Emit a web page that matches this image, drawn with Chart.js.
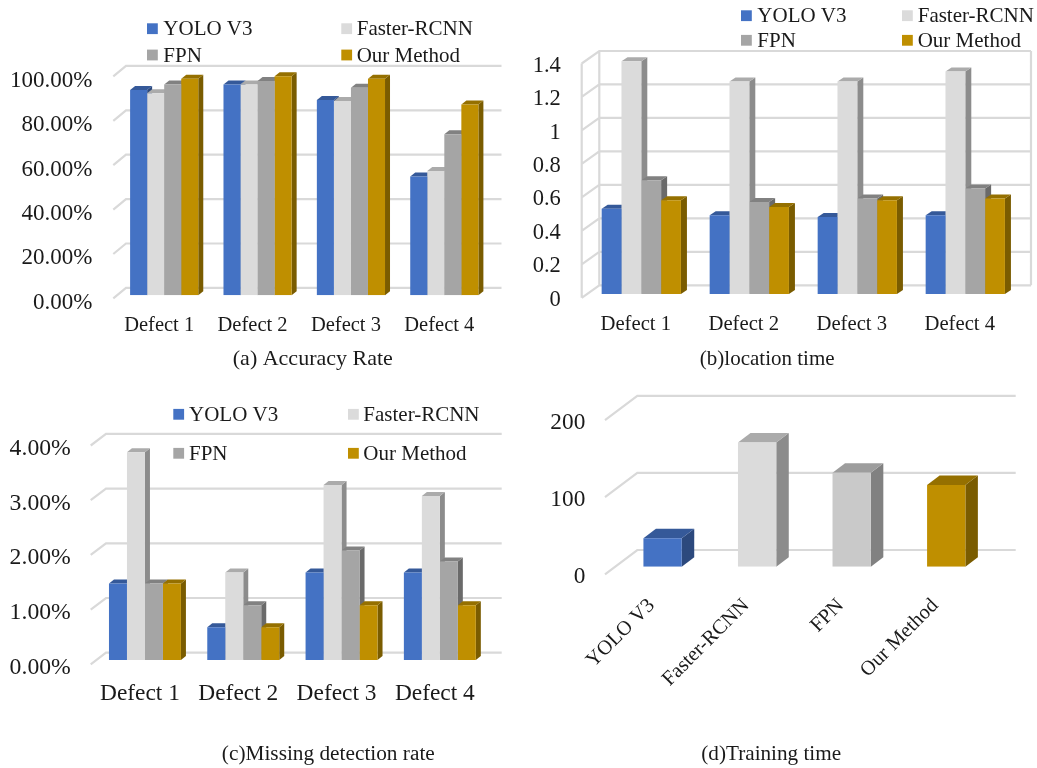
<!DOCTYPE html>
<html>
<head>
<meta charset="utf-8">
<title>Defect detection comparison</title>
<script src="https://cdn.jsdelivr.net/npm/chart.js@4/dist/chart.umd.min.js"></script>
<style>
  html, body { margin: 0; padding: 0; background: #fff; }
  #page { position: relative; width: 1037px; height: 768px; overflow: hidden; }
  canvas { position: absolute; }
</style>
</head>
<body>
<div id="page">
  <canvas id="chartA"></canvas>
  <canvas id="chartB"></canvas>
  <canvas id="chartC"></canvas>
  <canvas id="chartD"></canvas>
</div>
<script>
const defects = ['Defect 1', 'Defect 2', 'Defect 3', 'Defect 4'];
const methods = ['YOLO V3', 'Faster-RCNN', 'FPN', 'Our Method'];
const methodColors = ['#4472C4', '#DBDBDB', '#A5A5A5', '#BF8F00'];
const trainingColors = ['#4472C4', '#DBDBDB', '#C9C9C9', '#BF8F00'];

// (a) accuracy rate, percent
const accuracyYolo = [92.5, 95, 88, 53.5];
const accuracyFaster = [91, 95, 87.5, 56];
const accuracyFpn = [95, 96.5, 93.5, 72.5];
const accuracyOur = [97.5, 98.7, 97.5, 86];

// (b) location time
const locationYolo = [0.51, 0.47, 0.46, 0.47];
const locationFaster = [1.39, 1.27, 1.27, 1.33];
const locationFpn = [0.68, 0.55, 0.57, 0.63];
const locationOur = [0.56, 0.52, 0.56, 0.57];

// (c) missing detection rate, percent
const missingYolo = [1.4, 0.6, 1.6, 1.6];
const missingFaster = [3.8, 1.6, 3.2, 3.0];
const missingFpn = [1.4, 1.0, 2.0, 1.8];
const missingOur = [1.4, 0.6, 1.0, 1.0];

// (d) training time
const trainingTime = [37, 161, 122, 106];

const SERIF = '"Liberation Serif", "Times New Roman", serif';
const INK = '#1a1a1a';
const GRID = '#d9d9d9';

function shade(hex, k) {
  const n = parseInt(hex.slice(1), 16);
  const r = Math.round((n >> 16) * k);
  const g = Math.round(((n >> 8) & 255) * k);
  const b = Math.round((n & 255) * k);
  return `rgb(${r},${g},${b})`;
}

function poly(ctx, pts, color) {
  ctx.fillStyle = color;
  ctx.beginPath();
  pts.forEach((p, i) => (i ? ctx.lineTo(p[0], p[1]) : ctx.moveTo(p[0], p[1])));
  ctx.closePath();
  ctx.fill();
}

// back wall, grid lines and the depth of the bars
const fakeDepth = {
  id: 'fakeDepth',
  beforeDatasetsDraw(chart, args, opts) {
    const ctx = chart.ctx;
    const y = chart.scales.y;
    const w = opts.wall;
    const box = opts.box;
    ctx.save();
    ctx.strokeStyle = GRID;
    ctx.lineWidth = 2.2;
    ctx.beginPath();
    y.ticks.forEach(t => {
      const py = y.getPixelForValue(t.value) + w.shift;
      ctx.moveTo(w.front - box.x, py + w.dy);
      ctx.lineTo(w.back - box.x, py);
      ctx.lineTo(w.right - box.x, py);
    });
    if (w.frame) {
      const top = y.getPixelForValue(y.max) + w.shift;
      const bottom = y.getPixelForValue(0) + w.shift;
      ctx.moveTo(w.back - box.x, top);
      ctx.lineTo(w.back - box.x, bottom);
      ctx.moveTo(w.front - box.x, top + w.dy);
      ctx.lineTo(w.front - box.x, bottom + w.dy);
      ctx.moveTo(w.right - box.x, top);
      ctx.lineTo(w.right - box.x, bottom);
    }
    ctx.stroke();

    const d = opts.depth;
    chart.data.datasets.forEach((ds, i) => {
      chart.getDatasetMeta(i).data.forEach((bar, j) => {
        const color = Array.isArray(ds.backgroundColor) ? ds.backgroundColor[j] : ds.backgroundColor;
        const l = bar.x - bar.width / 2;
        const r = bar.x + bar.width / 2;
        poly(ctx, [[r, bar.y], [r + d.dx, bar.y - d.dy], [r + d.dx, bar.base - d.dy], [r, bar.base]], shade(color, 0.64));
        poly(ctx, [[l, bar.y], [l + d.dx, bar.y - d.dy], [r + d.dx, bar.y - d.dy], [r, bar.y]], shade(color, 0.78));
      });
    });
    ctx.restore();
  },
  afterDraw(chart, args, opts) {
    const ctx = chart.ctx;
    const box = opts.box;
    ctx.save();
    ctx.translate(-box.x, -box.y);
    ctx.fillStyle = INK;
    ctx.textBaseline = 'middle';
    if (opts.legend) {
      const lg = opts.legend;
      ctx.font = `21px ${SERIF}`;
      methods.forEach((name, i) => {
        const col = i % 2;
        const row = Math.floor(i / 2);
        const yc = lg.rows[row];
        ctx.fillStyle = methodColors[i];
        ctx.fillRect(lg.marks[col], yc - 5.4, 10.8, 10.8);
        ctx.fillStyle = INK;
        ctx.textAlign = 'left';
        ctx.fillText(name, lg.texts[col], yc + 1);
      });
    }
    const cap = opts.caption;
    ctx.font = `${cap.size}px ${SERIF}`;
    ctx.textAlign = 'center';
    ctx.fillText(cap.text, cap.x, cap.y + 1);
    ctx.restore();
  }
};

function groupDatasets(values) {
  return values.map((v, i) => ({
    label: methods[i],
    data: v,
    backgroundColor: methodColors[i],
    borderWidth: 0
  }));
}

function makePanel(id, p) {
  const canvas = document.getElementById(id);
  canvas.style.left = p.box.x + 'px';
  canvas.style.top = p.box.y + 'px';
  canvas.width = p.box.w;
  canvas.height = p.box.h;
  return new Chart(canvas, {
    type: 'bar',
    data: { labels: p.labels, datasets: p.datasets },
    plugins: [fakeDepth],
    options: {
      responsive: false,
      animation: false,
      layout: {
        padding: {
          left: 0,
          bottom: 0,
          top: p.area.top - p.box.y,
          right: p.box.x + p.box.w - p.area.right
        }
      },
      datasets: { bar: { categoryPercentage: p.group, barPercentage: 1 } },
      plugins: {
        legend: { display: false },
        title: { display: false },
        tooltip: { enabled: false },
        fakeDepth: { box: p.box, wall: p.wall, depth: p.depth, legend: p.legend, caption: p.caption }
      },
      scales: {
        x: {
          afterFit: s => { s.height = p.box.y + p.box.h - p.area.bottom; },
          grid: { display: false, drawTicks: false },
          border: { display: false },
          ticks: Object.assign({
            color: INK,
            autoSkip: false,
            font: { family: SERIF, size: p.xFont }
          }, p.xTicks)
        },
        y: {
          min: 0,
          max: p.yMax,
          afterFit: s => { s.width = p.area.left - p.box.x; },
          grid: { display: false, drawTicks: false },
          border: { display: false },
          ticks: {
            stepSize: p.yStep,
            color: INK,
            padding: p.yPad,
            labelOffset: p.yOffset,
            font: { family: SERIF, size: p.yFont },
            callback: p.yFormat
          }
        }
      }
    }
  });
}

makePanel('chartA', {
  box: { x: 0, y: 0, w: 520, h: 385 },
  area: { left: 117.5, right: 491, top: 73.3, bottom: 295.3 },
  labels: defects,
  datasets: groupDatasets([accuracyYolo, accuracyFaster, accuracyFpn, accuracyOur]),
  group: 0.73,
  yMax: 100, yStep: 20, yPad: 25, yOffset: 7.5, yFont: 23,
  yFormat: v => v.toFixed(2) + '%',
  xFont: 20.5,
  xTicks: { maxRotation: 0, minRotation: 0, padding: 18, labelOffset: -5 },
  wall: { front: 113.3, back: 126, right: 501.5, dy: 10.5, shift: -7.4, frame: false },
  depth: { dx: 5, dy: 4 },
  legend: { marks: [147, 341.3], texts: [163.3, 356.7], rows: [28.7, 55] },
  caption: { text: '(a) Accuracy Rate', x: 312.8, y: 358.3, size: 22 }
});

makePanel('chartB', {
  box: { x: 520, y: 0, w: 517, h: 385 },
  area: { left: 587.3, right: 1019.3, top: 59.7, bottom: 294 },
  labels: defects,
  datasets: groupDatasets([locationYolo, locationFaster, locationFpn, locationOur]),
  group: 0.734,
  yMax: 1.4, yStep: 0.2, yPad: 26.5, yOffset: 6, yFont: 22.5,
  yFormat: v => String(+v.toFixed(1)),
  xFont: 20.7,
  xTicks: { maxRotation: 0, minRotation: 0, padding: 18, labelOffset: -5.5 },
  wall: { front: 581.7, back: 599.3, right: 1031, dy: 12.5, shift: -8.7, frame: true },
  depth: { dx: 6, dy: 4 },
  legend: { marks: [741, 902], texts: [757.3, 917.7], rows: [15.7, 40.3] },
  caption: { text: '(b)location time', x: 767.2, y: 358.7, size: 21 }
});

makePanel('chartC', {
  box: { x: 0, y: 385, w: 520, h: 383 },
  area: { left: 95.8, right: 489, top: 441.2, bottom: 660 },
  labels: defects,
  datasets: groupDatasets([missingYolo, missingFaster, missingFpn, missingOur]),
  group: 0.732,
  yMax: 4, yStep: 1, yPad: 25, yOffset: 7.5, yFont: 23.7,
  yFormat: v => v.toFixed(2) + '%',
  xFont: 23.4,
  xTicks: { maxRotation: 0, minRotation: 0, padding: 20, labelOffset: -5 },
  wall: { front: 90.7, back: 106, right: 501.7, dy: 11.6, shift: -7.3, frame: false },
  depth: { dx: 5, dy: 4 },
  legend: { marks: [173.3, 348], texts: [189, 363.3], rows: [414.3, 453.3] },
  caption: { text: '(c)Missing detection rate', x: 328.3, y: 753.3, size: 21.3 }
});

// box starts higher than the others: tick padding also reserves room above the top tick
makePanel('chartD', {
  box: { x: 520, y: 355, w: 517, h: 413 },
  area: { left: 615.3, right: 993.5, top: 412.5, bottom: 566.7 },
  labels: methods,
  datasets: [{ label: 'Training time', data: trainingTime, backgroundColor: trainingColors, borderWidth: 0 }],
  group: 0.405,
  yMax: 200, yStep: 100, yPad: 30, yOffset: 10.5, yFont: 23.3,
  yFormat: v => String(v),
  xFont: 20.5,
  xTicks: { maxRotation: 45, minRotation: 45, padding: 27, labelOffset: -11 },
  wall: { front: 605, back: 637.3, right: 1015.7, dy: 24.3, shift: -16.7, frame: false },
  depth: { dx: 12.5, dy: 9.5 },
  legend: null,
  caption: { text: '(d)Training time', x: 771.2, y: 753.3, size: 21.2 }
});
</script>
</body>
</html>
